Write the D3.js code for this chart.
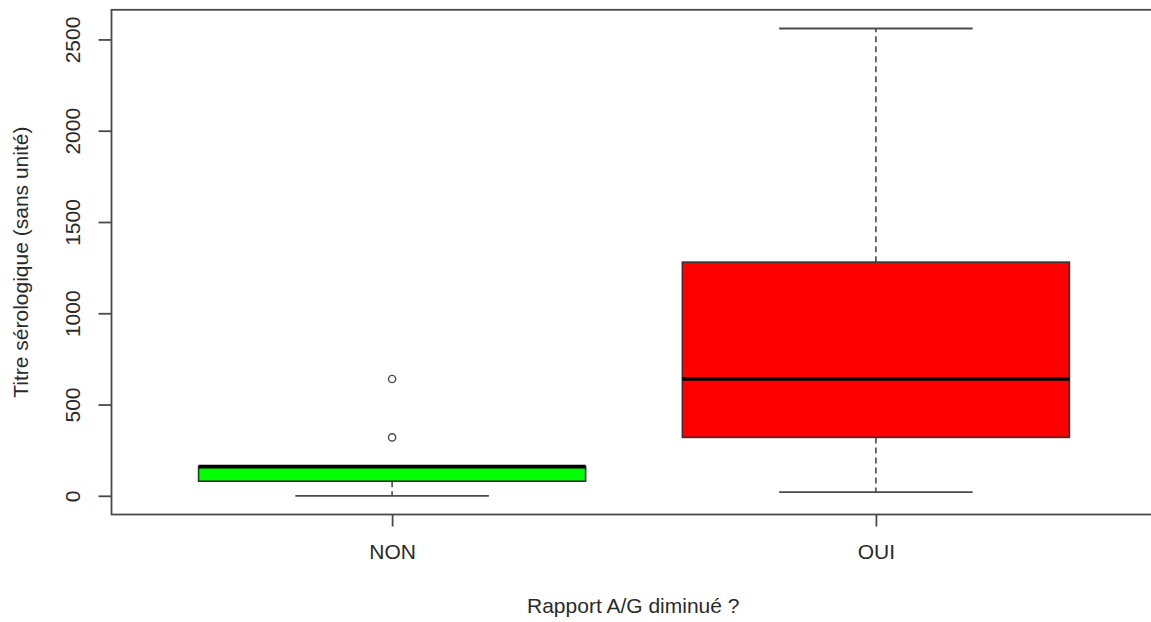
<!DOCTYPE html>
<html>
<head>
<meta charset="utf-8">
<script src="https://cdn.jsdelivr.net/npm/d3@7"></script>
<style>
  html, body { margin: 0; padding: 0; background: #fff; }
  svg { display: block; font-family: "Liberation Sans", Arial, sans-serif; }
</style>
</head>
<body>
<svg id="chart" width="1151" height="622"></svg>
<script>
// ---- data ----
const categories = ["NON", "OUI"];
const whiskerLow = [0, 20];
const q1Values = [80, 320];
const medianValues = [160, 640];
const q3Values = [160, 1280];
const whiskerHigh = [160, 2560];
const outliersNON = [320, 640];
const outliersOUI = [];
const boxColors = ["#00ff00", "#ff0000"];
const yTicks = [0, 500, 1000, 1500, 2000, 2500];
const xLabel = "Rapport A/G diminué ?";
const yLabel = "Titre sérologique (sans unité)";

const outliers = [outliersNON, outliersOUI];

const svg = d3.select("#chart");
const x = d3.scaleLinear().domain([0.42, 2.58]).range([111.5, 1156.5]);
const y = d3.scaleLinear().domain([-102.4, 2662.4]).range([514.5, 9.8]);

const lineCol = "#4a4a4a";
const textCol = "#2a2a2a";
const fs = "21px";
const halfBox = 0.4, halfCap = 0.2;

const g = svg.append("g");

categories.forEach((c, i) => {
  const cx = x(i + 1);
  // dashed whiskers
  g.append("line").attr("x1", cx).attr("x2", cx)
    .attr("y1", y(q1Values[i])).attr("y2", y(whiskerLow[i]))
    .attr("stroke", lineCol).attr("stroke-width", 1.6).attr("stroke-dasharray", "6,4");
  g.append("line").attr("x1", cx).attr("x2", cx)
    .attr("y1", y(q3Values[i])).attr("y2", y(whiskerHigh[i]))
    .attr("stroke", lineCol).attr("stroke-width", 1.6).attr("stroke-dasharray", "6,4");
  // caps
  [whiskerLow[i], whiskerHigh[i]].forEach(v => {
    g.append("line").attr("x1", x(i + 1 - halfCap)).attr("x2", x(i + 1 + halfCap))
      .attr("y1", y(v)).attr("y2", y(v))
      .attr("stroke", lineCol).attr("stroke-width", 1.8);
  });
  // box
  g.append("rect")
    .attr("x", x(i + 1 - halfBox)).attr("width", x(i + 1 + halfBox) - x(i + 1 - halfBox))
    .attr("y", y(q3Values[i])).attr("height", y(q1Values[i]) - y(q3Values[i]))
    .attr("fill", boxColors[i]).attr("stroke", "#333").attr("stroke-width", 1.6);
  // median
  g.append("line").attr("x1", x(i + 1 - halfBox)).attr("x2", x(i + 1 + halfBox))
    .attr("y1", y(medianValues[i])).attr("y2", y(medianValues[i]))
    .attr("stroke", "#000").attr("stroke-width", 3.6);
  // outliers
  outliers[i].forEach(v => {
    g.append("circle").attr("cx", cx).attr("cy", y(v)).attr("r", 3.6)
      .attr("fill", "none").attr("stroke", lineCol).attr("stroke-width", 1.4);
  });
});

// frame
svg.append("rect").attr("x", x(0.42)).attr("y", y(2662.4))
  .attr("width", x(2.58) - x(0.42)).attr("height", y(-102.4) - y(2662.4))
  .attr("fill", "none").attr("stroke", lineCol).attr("stroke-width", 1.8);

// y axis
const yAxis = d3.axisLeft(y).tickValues(yTicks).tickSize(13).tickPadding(14).tickFormat(d3.format("d"));
const ya = svg.append("g").attr("transform", `translate(${x(0.42)},0)`).call(yAxis);
ya.select(".domain").remove();
ya.selectAll(".tick line").attr("stroke", lineCol).attr("stroke-width", 1.8);
ya.selectAll(".tick text")
  .attr("fill", textCol).style("font-size", fs)
  .attr("x", 0).attr("dy", null)
  .attr("text-anchor", "middle")
  .attr("transform", "translate(-32,0) rotate(-90)")
  .attr("dominant-baseline", "auto");

// x axis
const xAxis = d3.axisBottom(x).tickValues(categories.map((c, i) => i + 1))
  .tickSize(12).tickPadding(18).tickFormat((d, i) => categories[i]);
const xa = svg.append("g").attr("transform", `translate(0,${y(-102.4)})`).call(xAxis);
xa.select(".domain").remove();
xa.selectAll(".tick line").attr("stroke", lineCol).attr("stroke-width", 1.8);
xa.selectAll(".tick text").attr("fill", textCol).style("font-size", fs);

// axis titles
svg.append("text").attr("x", (x(0.42) + 1151) / 2 + 2).attr("y", 613)
  .attr("text-anchor", "middle").attr("fill", textCol).style("font-size", fs)
  .text(xLabel);
svg.append("text")
  .attr("transform", `translate(28,${(y(2662.4) + y(-102.4)) / 2}) rotate(-90)`)
  .attr("text-anchor", "middle").attr("fill", textCol).style("font-size", fs)
  .text(yLabel);
</script>
</body>
</html>
